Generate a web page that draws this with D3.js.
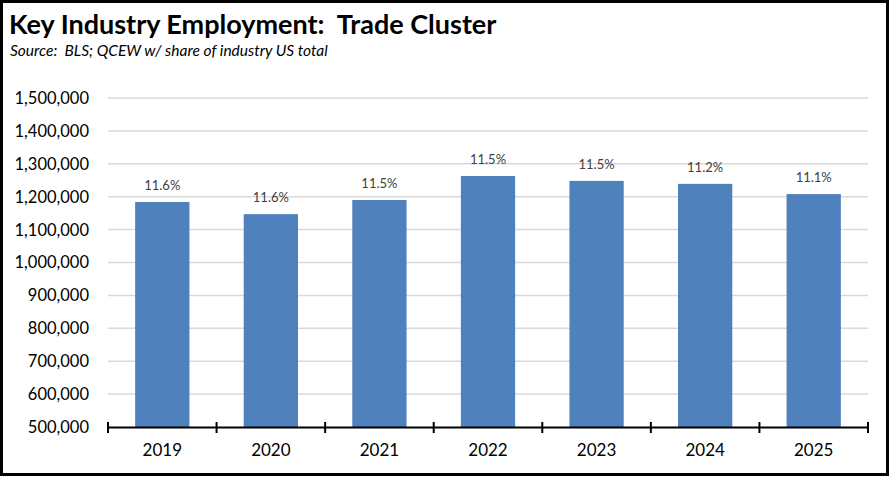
<!DOCTYPE html>
<html>
<head>
<meta charset="utf-8">
<script src="https://cdn.jsdelivr.net/npm/d3@7"></script>
<style>
  body { margin: 0; background: #fff; }
  text { font-family: Lato, "Open Sans", sans-serif; }
</style>
</head>
<body>
<div id="viz"></div>
<script>
// data
var years = ['2019', '2020', '2021', '2022', '2023', '2024', '2025'];
var jobs = [1184000, 1147000, 1190000, 1263000, 1248000, 1239000, 1208000];
var shares = ['11.6%', '11.6%', '11.5%', '11.5%', '11.5%', '11.2%', '11.1%'];
var yTicks = [500000, 600000, 700000, 800000, 900000, 1000000, 1100000, 1200000, 1300000, 1400000, 1500000];

var width = 890;
var height = 477;
var margin = { t: 98, l: 108, b: 50, r: 24 };

var svg = d3.select('#viz').append('svg')
  .attr('width', width)
  .attr('height', height);

// outer frame
svg.append('rect')
  .attr('x', 1.5).attr('y', 1.5)
  .attr('width', width - 4).attr('height', height - 4)
  .attr('fill', '#fff')
  .attr('stroke', '#000')
  .attr('stroke-width', 3);

svg.append('text')
  .attr('x', 9).attr('y', 34)
  .style('font-size', '27px')
  .style('font-weight', 'bold')
  .attr('xml:space', 'preserve')
  .text('Key Industry Employment:  Trade Cluster');

svg.append('text')
  .attr('x', 10).attr('y', 56)
  .style('font-size', '15.5px')
  .style('font-style', 'italic')
  .attr('xml:space', 'preserve')
  .text('Source:  BLS; QCEW w/ share of industry US total');

var x = d3.scaleBand()
  .domain(years)
  .range([margin.l, width - margin.r + 2])
  .paddingInner(0.5)
  .paddingOuter(0.25);

var y = d3.scaleLinear()
  .domain([500000, 1500000])
  .range([height - margin.b, margin.t]);

var g = svg.append('g');

// gridlines
g.selectAll('.grid')
  .data(yTicks.slice(1))
  .enter().append('line')
  .attr('class', 'grid')
  .attr('x1', margin.l).attr('x2', width - margin.r + 2)
  .attr('y1', function(d) { return y(d); })
  .attr('y2', function(d) { return y(d); })
  .attr('stroke', '#d9d9d9')
  .attr('stroke-width', 1.5);

// y labels
g.selectAll('.ylab')
  .data(yTicks)
  .enter().append('text')
  .attr('class', 'ylab')
  .attr('x', 89)
  .attr('y', function(d) { return y(d); })
  .attr('dy', '0.36em')
  .attr('text-anchor', 'end')
  .style('font-size', '16.5px')
  .style('fill', '#000')
  .text(d3.format(','));

// bars
g.selectAll('.bar')
  .data(jobs)
  .enter().append('rect')
  .attr('class', 'bar')
  .attr('x', function(d, i) { return x(years[i]); })
  .attr('width', x.bandwidth())
  .attr('y', function(d) { return y(d); })
  .attr('height', function(d) { return y(500000) - y(d); })
  .attr('fill', '#4f81bd');

// share labels
g.selectAll('.lab')
  .data(jobs)
  .enter().append('text')
  .attr('class', 'lab')
  .attr('x', function(d, i) { return x(years[i]) + x.bandwidth() / 2; })
  .attr('y', function(d) { return y(d) - 12; })
  .attr('text-anchor', 'middle')
  .style('font-size', '13px')
  .style('fill', '#404040')
  .text(function(d, i) { return shares[i]; });

// x axis
var xAxis = d3.axisBottom(x).tickSize(0).tickPadding(17);
var ax = svg.append('g')
  .attr('transform', 'translate(0,' + y(500000) + ')')
  .call(xAxis);
ax.select('.domain').attr('stroke', '#000').attr('stroke-width', 2);
ax.selectAll('text').style('font-size', '17px').style('fill', '#000')
  .style('font-family', 'Lato, "Open Sans", sans-serif');

// category separators on axis
var step = x.step();
var seps = d3.range(years.length + 1).map(function(i) { return margin.l + i * step; });
ax.selectAll('.sep')
  .data(seps)
  .enter().append('line')
  .attr('class', 'sep')
  .attr('x1', function(d) { return d; }).attr('x2', function(d) { return d; })
  .attr('y1', -5).attr('y2', 6)
  .attr('stroke', '#000')
  .attr('stroke-width', 2);
</script>
</body>
</html>
